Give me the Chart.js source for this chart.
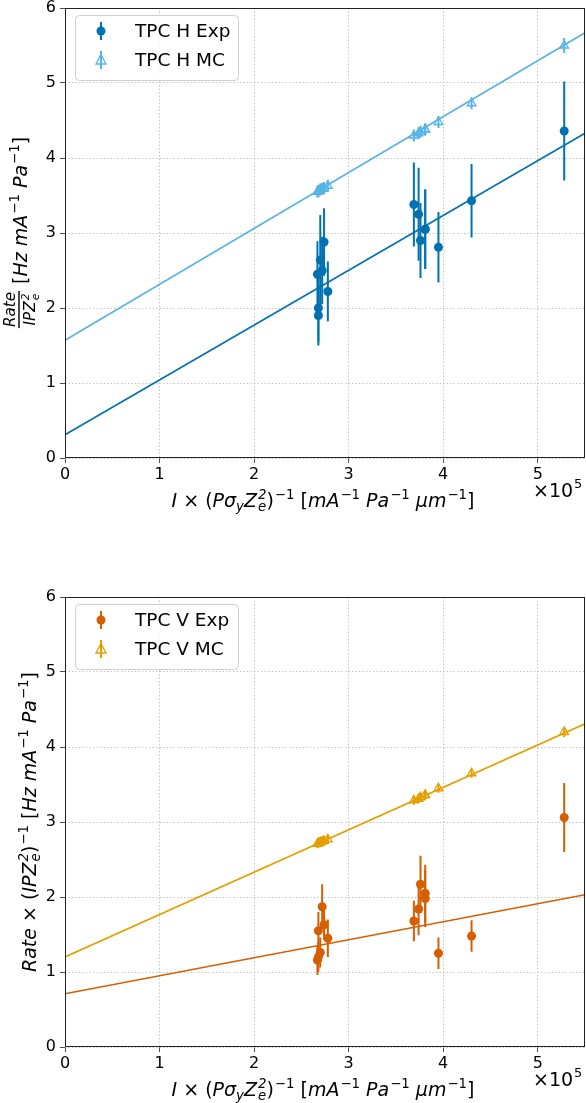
<!DOCTYPE html>
<html>
<head>
<meta charset="utf-8">
<script src="https://cdn.jsdelivr.net/npm/chart.js@4/dist/chart.umd.min.js"></script>
<style>
    body{margin:0;background:#fff;width:586px;height:1103px;overflow:hidden;position:relative;}
    .box{position:absolute;left:0;width:586px;}
</style>
</head>
<body>

<div class="box" style="top:0;height:550px;"><canvas id="topChart"></canvas></div>
<div class="box" style="top:589px;height:514px;"><canvas id="botChart"></canvas></div>

<script>
// ---- data ----
const xVals    = [2.67e5,2.68e5,2.68e5,2.70e5,2.72e5,2.74e5,2.78e5,3.69e5,3.74e5,3.76e5,3.81e5,3.81e5,3.95e5,4.30e5,5.28e5];

const hExp     = [2.45,2.00,1.90,2.64,2.50,2.88,2.22,3.38,3.25,2.90,3.05,3.05,2.81,3.43,4.36];
const hExpErr  = [0.44,0.45,0.40,0.60,0.45,0.45,0.40,0.56,0.62,0.50,0.53,0.53,0.47,0.49,0.66];
const hMC      = [3.55,3.56,3.56,3.58,3.59,3.60,3.63,4.30,4.33,4.35,4.38,4.38,4.48,4.73,5.50];
const hMCErr   = [0.08,0.08,0.08,0.08,0.08,0.08,0.08,0.08,0.08,0.08,0.08,0.08,0.08,0.08,0.10];

const vExp     = [1.16,1.20,1.55,1.26,1.87,1.63,1.45,1.68,1.84,2.17,2.05,1.98,1.25,1.48,3.06];
const vExpErr  = [0.20,0.20,0.25,0.20,0.30,0.20,0.25,0.27,0.35,0.38,0.38,0.38,0.21,0.21,0.46];
const vMC      = [2.71,2.72,2.72,2.73,2.74,2.75,2.77,3.29,3.31,3.33,3.36,3.36,3.45,3.65,4.20];
const vMCErr   = [0.06,0.06,0.06,0.06,0.06,0.06,0.06,0.06,0.06,0.06,0.06,0.06,0.06,0.06,0.07];

const fitX     = [0,5.5e5];
const hExpFit  = [0.31,4.33];
const hMCFit   = [1.57,5.67];
const vExpFit  = [0.71,2.03];
const vMCFit   = [1.20,4.31];

const yTicks   = [0,1,2,3,4,5,6];
const xTicks   = [0,1,2,3,4,5];

const FONT = "'DejaVu Sans', sans-serif";
const LABEL_SIZE = 19;

function pts(ys){ return ys.map((y,i)=>({x:xVals[i],y:y})); }
function line(ys){ return ys.map((y,i)=>({x:fitX[i],y:y})); }

/* ===== rich text (sub / superscripts) ===== */

function segWidth(ctx,s,size){
    if(s.frac){
        let fs = size*0.8;
        ctx.font = `italic ${fs}px ${FONT}`;
        let w1 = ctx.measureText(s.num).width;
        let w2 = richWidth(ctx,s.den,fs);
        return Math.max(w1,w2)+4;
    }
    if(s.stack){
        ctx.font = `${s.it?"italic ":""}${size*0.7}px ${FONT}`;
        return Math.max(ctx.measureText(s.up).width,ctx.measureText(s.dn).width)+1;
    }
    let sz = s.s ? size*0.7 : size;
    ctx.font = `${s.it?"italic ":""}${sz}px ${FONT}`;
    return ctx.measureText(s.t).width + (s.s==="sup" ? 1 : 0);
}

function richWidth(ctx,segs,size){
    return segs.reduce((a,s)=>a+segWidth(ctx,s,size),0);
}

function drawSegs(ctx,segs,x,y,size){
    ctx.textBaseline = "alphabetic";
    ctx.textAlign = "left";
    segs.forEach(s=>{
        let w = segWidth(ctx,s,size);
        if(s.frac){
            let fs = size*0.8;
            ctx.font = `italic ${fs}px ${FONT}`;
            let w1 = ctx.measureText(s.num).width;
            ctx.fillText(s.num,x+(w-w1)/2,y-size*0.6);
            let w2 = richWidth(ctx,s.den,fs);
            drawSegs(ctx,s.den,x+(w-w2)/2,y+size*0.45,fs);
            ctx.fillRect(x+1,y-size*0.45,w-2,1.4);
        }else if(s.stack){
            ctx.font = `${s.it?"italic ":""}${size*0.7}px ${FONT}`;
            ctx.fillText(s.up,x+1,y-size*0.42);
            ctx.fillText(s.dn,x+1,y+size*0.22);
        }else{
            let sz = s.s ? size*0.7 : size;
            ctx.font = `${s.it?"italic ":""}${sz}px ${FONT}`;
            let dy = s.s==="sup" ? -size*0.42 : (s.s==="sub" ? size*0.22 : 0);
            ctx.fillText(s.t,x+(s.s==="sup"?1:0),y+dy);
        }
        x += w;
    });
}

function drawRich(ctx,segs,cx,cy,size,rot){
    ctx.save();
    ctx.fillStyle = "#000";
    ctx.translate(cx,cy);
    if(rot) ctx.rotate(-Math.PI/2);
    let w = richWidth(ctx,segs,size);
    drawSegs(ctx,segs,-w/2,size*0.36,size);
    ctx.restore();
}

const xLabel = [
    {t:"I",it:true},{t:" × ("},{t:"Pσ",it:true},{t:"y",it:true,s:"sub"},{t:"Z",it:true},
    {stack:true,it:true,up:"2",dn:"e"},{t:")"},{t:"−1",s:"sup"},{t:" ["},
    {t:"mA",it:true},{t:"−1",s:"sup"},{t:" Pa",it:true},{t:"−1",s:"sup"},
    {t:" μm",it:true},{t:"−1",s:"sup"},{t:"]"}
];

const hYLabel = [
    {frac:true,num:"Rate",den:[{t:"IPZ",it:true},{stack:true,it:true,up:"2",dn:"e"}]},
    {t:" ["},{t:"Hz mA",it:true},{t:"−1",s:"sup"},{t:" Pa",it:true},{t:"−1",s:"sup"},{t:"]"}
];

const vYLabel = [
    {t:"Rate",it:true},{t:" × ("},{t:"IPZ",it:true},{stack:true,it:true,up:"2",dn:"e"},{t:")"},
    {t:"−1",s:"sup"},{t:" ["},{t:"Hz mA",it:true},{t:"−1",s:"sup"},{t:" Pa",it:true},
    {t:"−1",s:"sup"},{t:"]"}
];

/* ===== plugins ===== */

const errorBars = {
    id:"errorBars",
    beforeDatasetsDraw(chart){
        const ctx = chart.ctx;
        const xs = chart.scales.x, ys = chart.scales.y;
        chart.data.datasets.forEach(ds=>{
            if(!ds.errs) return;
            ctx.save();
            ctx.strokeStyle = ds.borderColor;
            ctx.lineWidth = 2;
            ds.data.forEach((p,i)=>{
                let px = xs.getPixelForValue(p.x);
                ctx.beginPath();
                ctx.moveTo(px,ys.getPixelForValue(p.y-ds.errs[i]));
                ctx.lineTo(px,ys.getPixelForValue(p.y+ds.errs[i]));
                ctx.stroke();
            });
            ctx.restore();
        });
    }
};

const decor = {
    id:"decor",
    afterDraw(chart){
        const ctx = chart.ctx;
        const a = chart.chartArea;
        const o = chart.options.plugins.decor;

        // frame
        ctx.save();
        ctx.strokeStyle = "#222";
        ctx.lineWidth = 1;
        ctx.strokeRect(a.left+0.5,a.top+0.5,a.right-a.left-1,a.bottom-a.top-1);
        ctx.restore();

        // legend
        ctx.save();
        ctx.fillStyle = "rgba(255,255,255,0.85)";
        ctx.strokeStyle = "#d0d0d0";
        ctx.lineWidth = 1;
        ctx.beginPath();
        ctx.roundRect(75.5,15.5,163,65,4);
        ctx.fill();
        ctx.stroke();

        o.legend.forEach((it,i)=>{
            let y = 31 + i*29;
            ctx.strokeStyle = it.color;
            ctx.lineWidth = 2;
            ctx.beginPath();
            ctx.moveTo(101,y-9);
            ctx.lineTo(101,y+9);
            ctx.stroke();
            if(it.tri){
                ctx.lineWidth = 1.3;
                ctx.beginPath();
                ctx.moveTo(101,y-5.5);
                ctx.lineTo(106,y+4);
                ctx.lineTo(96,y+4);
                ctx.closePath();
                ctx.stroke();
            }else{
                ctx.fillStyle = it.color;
                ctx.beginPath();
                ctx.arc(101,y,4.5,0,Math.PI*2);
                ctx.fill();
            }
            ctx.fillStyle = "#000";
            ctx.font = `18.5px ${FONT}`;
            ctx.textBaseline = "middle";
            ctx.textAlign = "left";
            ctx.fillText(it.text,135,y+1);
        });
        ctx.restore();

        // axis titles
        drawRich(ctx,xLabel,323,a.bottom+42,LABEL_SIZE,false);
        ctx.save();
        ctx.font = `${LABEL_SIZE}px ${FONT}`;
        ctx.textBaseline = "middle";
        ctx.textAlign = "left";
        ctx.fillStyle = "#000";
        ctx.fillText("×10",533,a.bottom+34);
        ctx.font = `13px ${FONT}`;
        ctx.fillText("5",574,a.bottom+27);
        ctx.restore();
        drawRich(ctx,o.yLabel,o.yLabelX,(a.top+a.bottom)/2,LABEL_SIZE,true);
    }
};

function makeChart(id,xAxisH,sets,legend,yLabel,yLabelX){
    return new Chart(document.getElementById(id),{
        type:"scatter",
        data:{datasets:sets},
        plugins:[errorBars,decor],
        options:{
            responsive:true,
            maintainAspectRatio:false,
            animation:false,
            layout:{autoPadding:false,padding:{top:8,right:1,left:0,bottom:0}},
            plugins:{
                legend:{display:false},
                tooltip:{enabled:false},
                decor:{legend:legend,yLabel:yLabel,yLabelX:yLabelX}
            },
            scales:{
                x:{
                    type:"linear",
                    min:0,max:5.5e5,
                    afterFit(s){ s.height = xAxisH; s.paddingLeft = 0; s.paddingRight = 0; },
                    afterBuildTicks(s){ s.ticks = xTicks.map(v=>({value:v*1e5})); },
                    border:{display:false,dash:[1.5,2]},
                    grid:{color:"#b8b8b8",lineWidth:0.8,tickColor:"#222",tickLength:5,tickBorderDash:[]},
                    ticks:{color:"#000",font:{family:FONT,size:16},padding:2,maxRotation:0,
                           callback:v=>String(Math.round(v/1e5))}
                },
                y:{
                    type:"linear",
                    min:0,max:6,
                    afterFit(s){ s.width = 65; s.paddingTop = 0; s.paddingBottom = 0; },
                    afterBuildTicks(s){ s.ticks = yTicks.map(v=>({value:v})); },
                    border:{display:false,dash:[1.5,2]},
                    grid:{color:"#b8b8b8",lineWidth:0.8,tickColor:"#222",tickLength:5,tickBorderDash:[]},
                    ticks:{color:"#000",font:{family:FONT,size:16},padding:4,
                           callback:v=>String(v)}
                }
            }
        }
    });
}

function expSet(ys,errs,color){
    return {data:pts(ys),errs:errs,borderColor:color,backgroundColor:color,
            pointStyle:"circle",pointRadius:4.5,borderWidth:0,showLine:false};
}
function mcSet(ys,errs,color){
    return {data:pts(ys),errs:errs,borderColor:color,backgroundColor:"rgba(0,0,0,0)",
            pointStyle:"triangle",pointRadius:5,borderWidth:1.3,showLine:false};
}
function fitSet(ys,color){
    return {type:"line",data:line(ys),borderColor:color,borderWidth:1.6,pointRadius:0,fill:false};
}

const cH = "#0072B2", cHmc = "#56B4E9", cV = "#D55E00", cVmc = "#E69F00";

makeChart("topChart",92,[
    fitSet(hExpFit,cH),
    fitSet(hMCFit,cHmc),
    expSet(hExp,hExpErr,cH),
    mcSet(hMC,hMCErr,cHmc)
],[
    {text:"TPC H Exp",color:cH,tri:false},
    {text:"TPC H MC",color:cHmc,tri:true}
],hYLabel,20);

makeChart("botChart",56,[
    fitSet(vExpFit,cV),
    fitSet(vMCFit,cVmc),
    expSet(vExp,vExpErr,cV),
    mcSet(vMC,vMCErr,cVmc)
],[
    {text:"TPC V Exp",color:cV,tri:false},
    {text:"TPC V MC",color:cVmc,tri:true}
],vYLabel,29);
</script>
</body>
</html>
